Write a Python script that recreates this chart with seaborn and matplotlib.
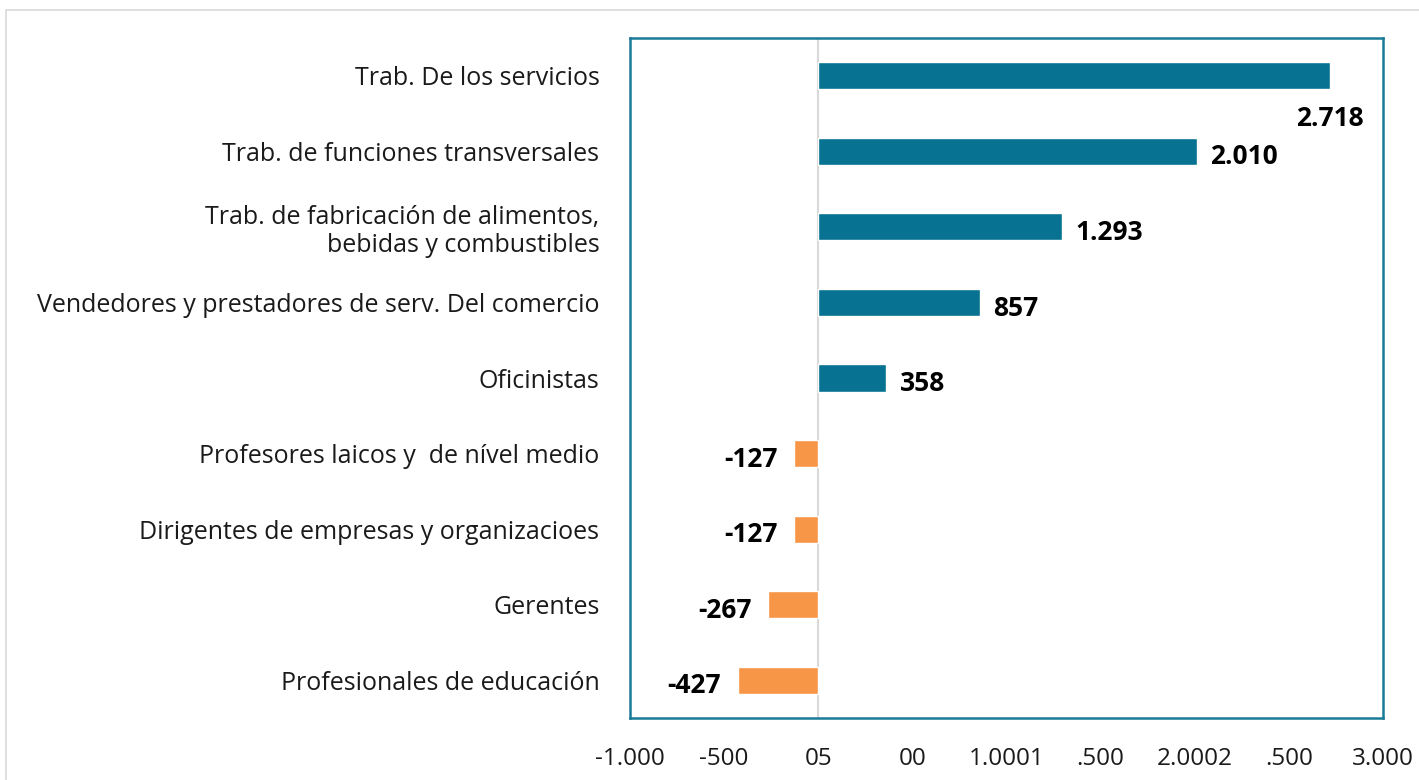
import matplotlib
matplotlib.use("Agg")
import matplotlib.pyplot as plt
import seaborn as sns
import pandas as pd
from matplotlib.patches import Rectangle

categories = [
    "Trab. De los servicios",
    "Trab. de funciones transversales",
    "Trab. de fabricación de alimentos,\nbebidas y combustibles",
    "Vendedores y prestadores de serv. Del comercio",
    "Oficinistas",
    "Profesores laicos y  de nível medio",
    "Dirigentes de empresas y organizacioes",
    "Gerentes",
    "Profesionales de educación",
]
values = [2718, 2010, 1293, 857, 358, -127, -127, -267, -427]
x_ticks = [-1000, -500, 0, 500, 1000, 1500, 2000, 2500, 3000]
x_tick_labels = ["-1.000", "-500", "05", "00", "1.0001", ".500", "2.0002", ".500", "3.000"]

POS = "#077291"
NEG = "#F79646"
FRAME = "#1B7A98"

sns.set_theme(style="white")
plt.rcParams["font.family"] = ["Open Sans", "DejaVu Sans"]

df = pd.DataFrame({
    "cat": categories,
    "val": values,
    "sign": ["pos" if v >= 0 else "neg" for v in values],
})

fig = plt.figure(figsize=(14.19, 7.8), dpi=100)
ax = fig.add_axes([630 / 1419, 1 - 718 / 780, (1383 - 630) / 1419, (718 - 38) / 780])

sns.barplot(data=df, x="val", y="cat", hue="sign", palette={"pos": POS, "neg": NEG},
            dodge=False, width=0.36, legend=False, ax=ax, orient="h",
            saturation=1)

ax.set_xlim(-1000, 3000)
ax.set_ylim(8.5, -0.5)
ax.axvline(0, color="#D9D9D9", lw=1.5, zorder=0)

ax.set_xticks(x_ticks)
ax.set_xticklabels(x_tick_labels, fontsize=17.5, color="#1a1a1a")
ax.set_yticks(range(len(categories)))
ax.set_yticklabels(categories, fontsize=18, color="#1a1a1a", ha="right",
                   linespacing=1.15)
ax.tick_params(axis="x", length=0, pad=21)
ax.tick_params(axis="y", length=0, pad=22)
ax.set_xlabel("")
ax.set_ylabel("")

for s in ax.spines.values():
    s.set_color(FRAME)
    s.set_linewidth(1.8)

def fmt(v):
    return f"{v:,}".replace(",", ".")

LBL = dict(fontsize=19, fontweight="bold", color="black", va="center")
for i, v in enumerate(values):
    label = fmt(v)
    if i == 0:
        ax.annotate(label, (v, i), xytext=(24, -31), textcoords="offset points",
                    ha="right", annotation_clip=False, **LBL)
    elif v >= 0:
        ax.annotate(label, (v, i), xytext=(10, -4), textcoords="offset points",
                    ha="left", **LBL)
    else:
        ax.annotate(label, (v, i), xytext=(-12, -4), textcoords="offset points",
                    ha="right", **LBL)

fig.patches.append(Rectangle((6 / 1419, -0.01), 1.02, 1 - 10 / 780 + 0.01,
                             transform=fig.transFigure, fill=False,
                             edgecolor="#D9D9D9", lw=1.2, zorder=-1))

fig.savefig("out.png", dpi=100)
